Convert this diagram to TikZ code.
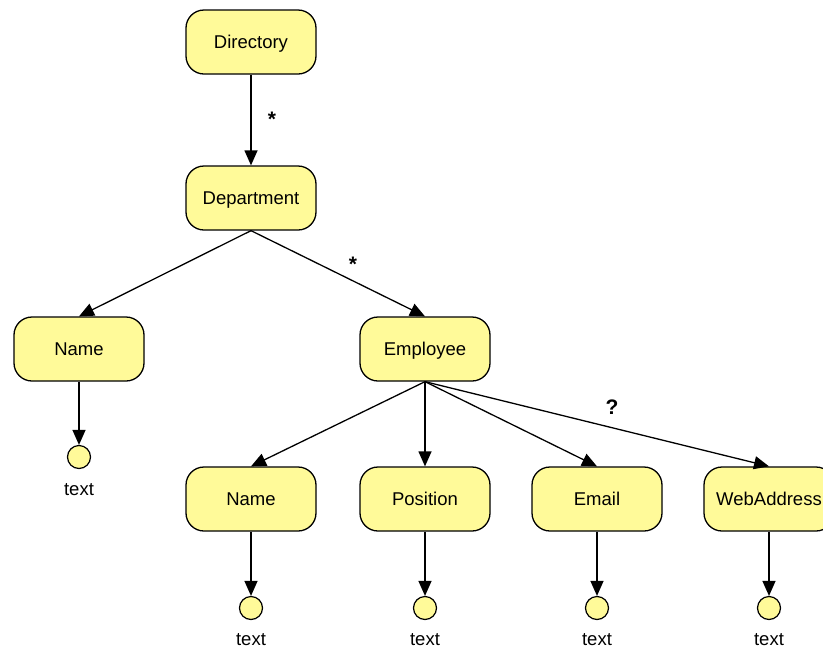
\documentclass[tikz,border=0pt]{standalone}
\usepackage{fontspec}
\setmainfont{Liberation Sans}
\usetikzlibrary{arrows.meta}
\definecolor{boxfill}{HTML}{FFFA99}
\begin{document}
\begin{tikzpicture}[x=1pt,y=-1pt,
  elem/.style={draw,fill=boxfill,line width=1.3pt,rounded corners=18pt,
    minimum width=130pt,minimum height=64pt,inner sep=0pt,text depth=0pt,
    font=\fontsize{18.5}{22}\selectfont},
  leaf/.style={draw,fill=boxfill,circle,line width=1.2pt,minimum size=23pt,inner sep=0pt},
  lbl/.style={font=\fontsize{18.5}{22}\selectfont},
  mult/.style={font=\bfseries\fontsize{21}{24}\selectfont},
  link/.style={line width=1.3pt,-{Triangle[length=15pt,width=13pt]}}]
\useasboundingbox (0,0) rectangle (823,649);
\clip (0,0) rectangle (823,649);
% element boxes
\node[elem] (dir) at (251,42) {Directory};
\node[elem] (dept) at (251,198) {Department};
\node[elem] (dname) at (79,349) {Name};
\node[elem] (emp) at (425,349) {Employee};
\node[elem] (ename) at (251,499) {Name};
\node[elem] (pos) at (425,499) {Position};
\node[elem] (mail) at (597,499) {Email};
\node[elem] (web) at (769,499) {WebAddress};
% text leaves
\node[leaf] (t0) at (79,457) {};
\node[leaf] (t1) at (251,608) {};
\node[leaf] (t2) at (425,608) {};
\node[leaf] (t3) at (597,608) {};
\node[leaf] (t4) at (769,608) {};
\node[lbl] (l0) at (79,490) {text};
\node[lbl] (l1) at (251,640) {text};
\node[lbl] (l2) at (425,640) {text};
\node[lbl] (l3) at (597,640) {text};
\node[lbl] (l4) at (769,640) {text};
% connectors
\draw[link] (dir.south) -- (dept.north);
\draw[link] (dept.south) -- (dname.north);
\draw[link] (dept.south) -- (emp.north);
\draw[link] (emp.south) -- (ename.north);
\draw[link] (emp.south) -- (pos.north);
\draw[link] (emp.south) -- (mail.north);
\draw[link] (emp.south) -- (web.north);
\draw[link] (dname.south) -- (t0.north);
\draw[link] (ename.south) -- (t1.north);
\draw[link] (pos.south) -- (t2.north);
\draw[link] (mail.south) -- (t3.north);
\draw[link] (web.south) -- (t4.north);
% multiplicities
\node[mult] (m1) at (272,119) {*};
\node[mult] (m2) at (353,264) {*};
\node[mult] (m3) at (612,407) {?};
\end{tikzpicture}
\end{document}
